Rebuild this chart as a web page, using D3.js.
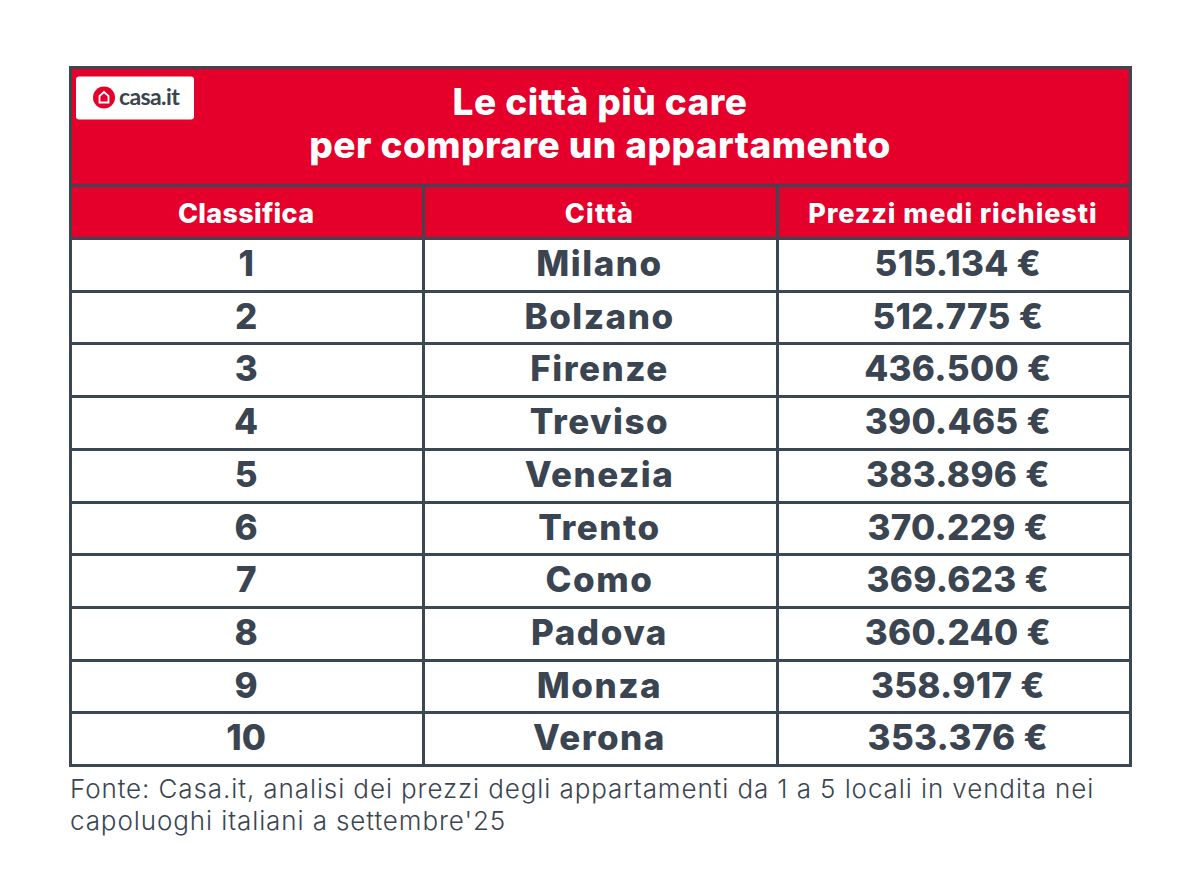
<!DOCTYPE html>
<html>
<head>
<meta charset="UTF-8">
<title>Le città più care</title>
<script src="https://d3js.org/d3.v7.min.js"></script>
<style>
	html, body { margin: 0; padding: 0; background: #fff; }
	svg { display: block; }
	text { font-family: Inter, sans-serif; text-anchor: middle; }
	.grid { stroke: #3c4754; stroke-width: 3; fill: none; shape-rendering: crispEdges; }
	.head { fill: #fff; font-weight: 800; font-size: 27px; }
	.h0 { letter-spacing: 0.3px; }
	.h1 { letter-spacing: 1.2px; }
	.h2 { letter-spacing: 0.9px; }
	.title { fill: #fff; font-weight: 800; font-size: 37px; letter-spacing: 0.45px; }
	.cell { fill: #3a4551; font-weight: 800; font-size: 35px; }
	.c1 { letter-spacing: 1.5px; }
	.c2 { letter-spacing: 0.3px; }
	.note { fill: #3a4551; font-weight: 300; font-size: 26px; letter-spacing: 0.9px; text-anchor: start; }
</style>
</head>
<body>
<svg id="chart" width="1200" height="878"></svg>
<script>
	var titleLines = ["Le città più care", "per comprare un appartamento"];
	var columns = ["Classifica", "Città", "Prezzi medi richiesti"];
	var ranks = ["1", "2", "3", "4", "5", "6", "7", "8", "9", "10"];
	var cities = ["Milano", "Bolzano", "Firenze", "Treviso", "Venezia", "Trento", "Como", "Padova", "Monza", "Verona"];
	var prices = ["515.134 €", "512.775 €", "436.500 €", "390.465 €", "383.896 €", "370.229 €", "369.623 €", "360.240 €", "358.917 €", "353.376 €"];
	var noteLines = [
		"Fonte: Casa.it, analisi dei prezzi degli appartamenti da 1 a 5 locali in vendita nei",
		"capoluoghi italiani a settembre'25"
	];

	var svg = d3.select("#chart");

	var tableLeft = 70, tableRight = 1130, tableTop = 67, titleBottom = 185, headBottom = 238, tableBottom = 765;

	//=====SCALES=====
	var x = d3.scaleBand().domain(columns).range([tableLeft, tableRight]);
	var y = d3.scaleBand().domain(ranks).range([headBottom, tableBottom]);

	//=====RED HEADER=====
	svg.append("rect")
		.attr("x", tableLeft).attr("y", tableTop)
		.attr("width", tableRight - tableLeft).attr("height", headBottom - tableTop)
		.attr("fill", "#e4002b");

	//=====GRID=====
	var g = svg.append("g").attr("class", "grid");
	g.append("rect").attr("x", tableLeft).attr("y", tableTop).attr("width", tableRight - tableLeft).attr("height", tableBottom - tableTop);
	g.append("line").attr("x1", tableLeft).attr("x2", tableRight).attr("y1", titleBottom).attr("y2", titleBottom);
	g.selectAll(".row").data(ranks).enter().append("line")
		.attr("x1", tableLeft).attr("x2", tableRight)
		.attr("y1", function(d) { return Math.round(y(d)); })
		.attr("y2", function(d) { return Math.round(y(d)); });
	g.selectAll(".col").data(columns.slice(1)).enter().append("line")
		.attr("y1", titleBottom).attr("y2", tableBottom)
		.attr("x1", function(d) { return Math.round(x(d)); })
		.attr("x2", function(d) { return Math.round(x(d)); });

	//=====TITLE=====
	svg.selectAll(".title").data(titleLines).enter().append("text")
		.attr("class", "title")
		.attr("x", 600)
		.attr("y", function(d, i) { return 115 + i * 43; })
		.text(function(d) { return d; });

	//=====COLUMN HEADS=====
	svg.selectAll(".head").data(columns).enter().append("text")
		.attr("class", function(d, i) { return "head h" + i; })
		.attr("x", function(d) { return x(d) + x.bandwidth() / 2 - 0.5; })
		.attr("y", 222.5)
		.text(function(d) { return d; });

	//=====BODY=====
	// the price column sits a little right of centre in the original
	var nudge = [0, 0, 5];
	[ranks, cities, prices].forEach(function(values, c) {
		svg.selectAll(".c" + c).data(values).enter().append("text")
			.attr("class", "cell c" + c)
			.attr("x", x(columns[c]) + x.bandwidth() / 2 - 0.5 + nudge[c])
			.attr("y", function(d, i) { return y(ranks[i]) + 38; })
			.text(function(d) { return d; });
	});

	//=====SOURCE=====
	svg.selectAll(".note").data(noteLines).enter().append("text")
		.attr("class", "note")
		.attr("x", 70)
		.attr("y", function(d, i) { return 798 + i * 32; })
		.text(function(d) { return d; });

	//=====LOGO=====
	var logo = svg.append("g");
	logo.append("rect").attr("x", 76).attr("y", 76.5).attr("width", 118).attr("height", 43).attr("rx", 3).attr("fill", "#fff");
	logo.append("circle").attr("cx", 104).attr("cy", 97.5).attr("r", 11).attr("fill", "#e4002b");
	logo.append("path").attr("d", "M99.5 102.5v-6.5l4.5-4 4.5 4v6.5z").attr("fill", "none").attr("stroke", "#fff").attr("stroke-width", 1.8);
	logo.append("text")
		.attr("x", 149).attr("y", 105)
		.attr("fill", "#3a4551")
		.style("font-family", "Lato, sans-serif")
		.style("font-weight", 700).style("font-size", "23px").style("letter-spacing", "-0.6px")
		.text("casa.it");
</script>
</body>
</html>
